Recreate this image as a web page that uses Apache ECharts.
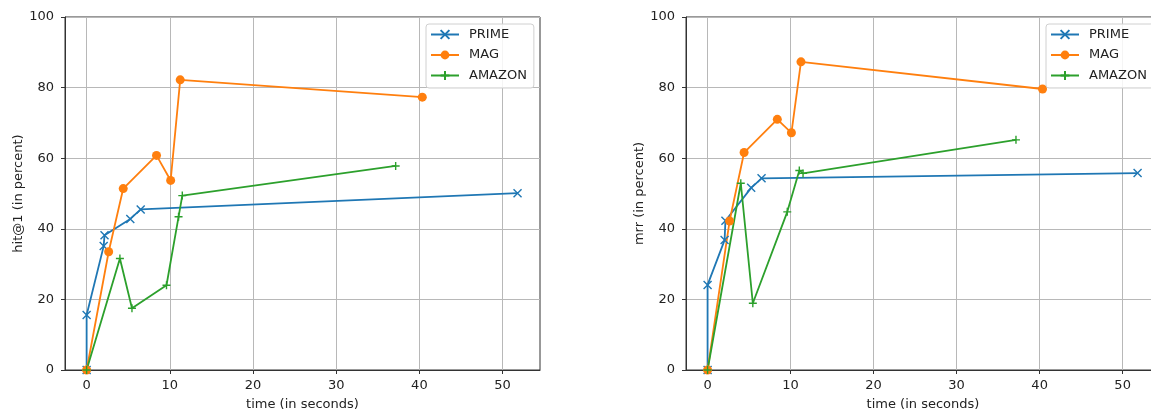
<!DOCTYPE html>
<html>
<head>
<meta charset="utf-8">
<script src="https://cdn.jsdelivr.net/npm/echarts@6/dist/echarts.min.js"></script>
<style>
html,body{margin:0;padding:0;background:#fff;}
#chart{width:1151px;height:412px;}
</style>
</head>
<body>
<div id="chart"></div>
<script>
// ---- data ----
const seriesNames = ['PRIME', 'MAG', 'AMAZON'];
const xTickValues = [0, 10, 20, 30, 40, 50];
const yTickValues = [0, 20, 40, 60, 80, 100];

const primeTime  = [0, 0, 2.05, 2.15, 5.25, 6.5, 51.8];
const primeHit1  = [0, 15.6, 35.1, 38.2, 42.8, 45.5, 50.1];
const primeMrr   = [0, 24.1, 36.8, 42.3, 51.6, 54.3, 55.8];

const magTime    = [0, 2.65, 4.4, 8.4, 10.1, 11.25, 40.35];
const magHit1    = [0, 33.5, 51.4, 60.8, 53.7, 82.2, 77.3];
const magMrr     = [0, 42.2, 61.6, 71.0, 67.2, 87.3, 79.6];

const amazonTime = [0, 4.0, 5.45, 9.6, 11.05, 11.5, 37.15];
const amazonHit1 = [0, 31.6, 17.5, 24.0, 43.4, 49.4, 57.8];
const amazonMrr  = [0, 52.9, 18.9, 44.8, 56.5, 55.7, 65.2];

// ---- styling ----
const colors = {PRIME: '#1f77b4', MAG: '#ff7f0e', AMAZON: '#2ca02c'};
const symbols = {
  PRIME: 'path://M0,0L10,10M10,0L0,10',
  MAG: 'circle',
  AMAZON: 'path://M5,0L5,10M0,5L10,5'
};
const symbolSizes = {PRIME: 8, MAG: 9, AMAZON: 8};
const FONT = 'DejaVu Sans';
const FS = 13;

function zip(xs, ys) { return xs.map((x, i) => [x, ys[i]]); }

function makeSeries(name, xs, ys, idx) {
  const c = colors[name];
  return {
    name: name,
    type: 'line',
    xAxisIndex: idx,
    yAxisIndex: idx,
    data: zip(xs, ys),
    symbol: symbols[name],
    symbolSize: symbolSizes[name],
    showAllSymbol: true,
    clip: true,
    animation: false,
    lineStyle: {color: c, width: 1.8},
    itemStyle: {color: c, borderColor: c, borderWidth: name === 'MAG' ? 0 : 1.4},
    emphasis: {disabled: true}
  };
}

function makeXAxis(gridIndex) {
  return {
    type: 'value', gridIndex: gridIndex, min: -2.6, max: 54.5,
    name: 'time (in seconds)', nameLocation: 'middle', nameGap: 28,
    nameTextStyle: {fontFamily: FONT, fontSize: FS, color: '#222'},
    axisLine: {show: true, onZero: false, lineStyle: {color: '#333', width: 1}},
    axisTick: {show: true, length: 4, inside: false, customValues: xTickValues, lineStyle: {color: '#333'}},
    axisLabel: {customValues: xTickValues, fontFamily: FONT, fontSize: FS, color: '#222', margin: 9},
    splitLine: {show: true, lineStyle: {color: '#b8b8b8', width: 1}}
  };
}

function makeYAxis(gridIndex, name) {
  return {
    type: 'value', gridIndex: gridIndex, min: 0, max: 100, interval: 20,
    name: name, nameLocation: 'middle', nameGap: 40,
    nameTextStyle: {fontFamily: FONT, fontSize: FS, color: '#222'},
    axisLine: {show: true, onZero: false, lineStyle: {color: '#333', width: 1}},
    axisTick: {show: true, length: 4, inside: false, lineStyle: {color: '#333'}},
    axisLabel: {fontFamily: FONT, fontSize: FS, color: '#222', margin: 11},
    splitLine: {show: true, lineStyle: {color: '#b8b8b8', width: 1}}
  };
}

function makeLegend(left, top) {
  return {
    orient: 'vertical', left: left, top: top,
    data: seriesNames,
    itemWidth: 28, itemHeight: 11, itemGap: 7.5,
    padding: [4, 7, 6, 4],
    backgroundColor: 'rgba(255,255,255,0.85)',
    borderColor: '#d0d0d0', borderWidth: 1, borderRadius: 3,
    textStyle: {fontFamily: FONT, fontSize: FS, color: '#222', padding: [0, 0, 0, 5]},
    selectedMode: false
  };
}

const chart = echarts.init(document.getElementById('chart'), null, {renderer: 'canvas'});
chart.setOption({
  animation: false,
  backgroundColor: '#fff',
  grid: [
    {left: 65, top: 17, width: 475, height: 353, outerBoundsMode: 'none', containLabel: false, show: true, borderColor: '#333', borderWidth: 1, backgroundColor: 'transparent'},
    {left: 686, top: 17, width: 474, height: 353, outerBoundsMode: 'none', containLabel: false, show: true, borderColor: '#333', borderWidth: 1, backgroundColor: 'transparent'}
  ],
  xAxis: [makeXAxis(0), makeXAxis(1)],
  yAxis: [makeYAxis(0, 'hit@1 (in percent)'), makeYAxis(1, 'mrr (in percent)')],
  legend: [makeLegend(426, 24), makeLegend(1046, 24)],
  series: [
    makeSeries('PRIME', primeTime, primeHit1, 0),
    makeSeries('MAG', magTime, magHit1, 0),
    makeSeries('AMAZON', amazonTime, amazonHit1, 0),
    makeSeries('PRIME', primeTime, primeMrr, 1),
    makeSeries('MAG', magTime, magMrr, 1),
    makeSeries('AMAZON', amazonTime, amazonMrr, 1)
  ]
});
</script>
</body>
</html>
